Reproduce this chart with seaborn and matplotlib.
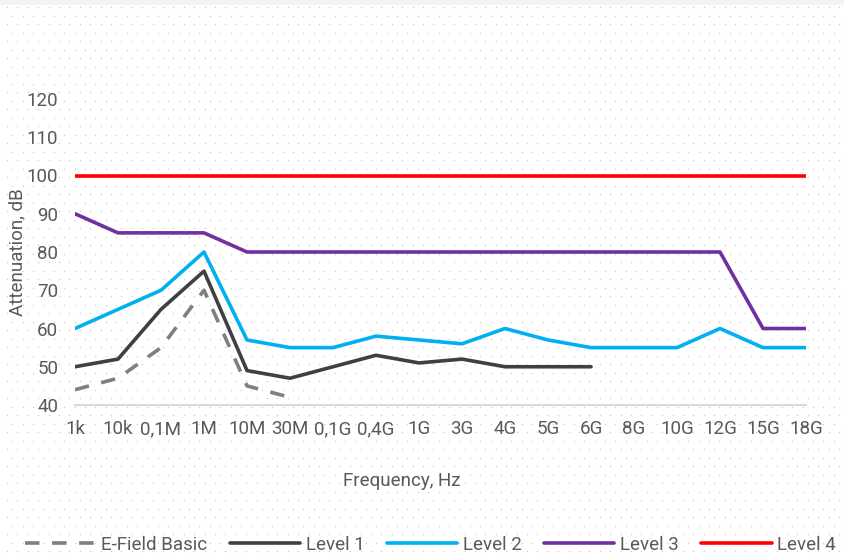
import matplotlib
matplotlib.use("Agg")
import matplotlib.pyplot as plt
import numpy as np
import pandas as pd
import seaborn as sns

# data
freq_labels = ["1k", "10k", "0,1M", "1M", "10M", "30M", "0,1G", "0,4G", "1G",
               "3G", "4G", "5G", "6G", "8G", "10G", "12G", "15G", "18G"]
efield_basic = [44, 47, 55, 70, 45, 42]
level_1 = [50, 52, 65, 75, 49, 47, 50, 53, 51, 52, 50, 50, 50]
level_2 = [60, 65, 70, 80, 57, 55, 55, 58, 57, 56, 60, 57, 55, 55, 55, 60, 55, 55]
level_3 = [90, 85, 85, 85, 80, 80, 80, 80, 80, 80, 80, 80, 80, 80, 80, 80, 60, 60]
level_4 = [100] * 18

series = {
    "E-Field Basic": efield_basic,
    "Level 1": level_1,
    "Level 2": level_2,
    "Level 3": level_3,
    "Level 4": level_4,
}
colors = {
    "E-Field Basic": "#7f7f7f",
    "Level 1": "#404040",
    "Level 2": "#00b0f0",
    "Level 3": "#7030a0",
    "Level 4": "#ff0000",
}

rows = []
for name, vals in series.items():
    for i, v in enumerate(vals):
        rows.append({"pos": i, "freq": freq_labels[i], "value": v, "series": name})
df = pd.DataFrame(rows)

sns.set_theme(style="white")
plt.rcParams["font.family"] = ["Roboto", "DejaVu Sans"]
text_col = "#595959"

fig = plt.figure(figsize=(8.45, 5.55), dpi=100)

# dotted background pattern
bg = fig.add_axes([0, 0, 1, 1], zorder=-1)
bg.set_xlim(0, 845)
bg.set_ylim(555, 0)
bg.axis("off")
ys = np.arange(7, 555, 8.5)
for k, yy in enumerate(ys):
    off = 7 if k % 2 == 0 else 12.2
    xs = np.arange(off, 845, 10.4)
    bg.scatter(xs, np.full_like(xs, yy), s=1.2, color="#d0d0d0", linewidths=0)
bg.axhspan(0, 5, color="#f3f3f3", lw=0)

ax = fig.add_axes([75 / 845, 1 - 405 / 555, 731 / 845, 306 / 555])
ax.patch.set_alpha(0)

sns.lineplot(data=df, x="pos", y="value", hue="series", style="series",
             palette=colors,
             dashes={"E-Field Basic": (4, 3.5), "Level 1": "", "Level 2": "",
                     "Level 3": "", "Level 4": ""},
             linewidth=2.6, ax=ax, legend=False, sort=False)

ax.set_xlim(0, 17)
ax.set_ylim(40, 120)
ax.set_yticks(range(40, 121, 10))
ax.set_xticks(range(len(freq_labels)))
ax.set_xticklabels(freq_labels)
ax.tick_params(axis="both", length=0, labelsize=13.5, labelcolor=text_col)
ax.tick_params(axis="x", pad=11)
ax.tick_params(axis="y", pad=12)
for side in ["top", "right", "left"]:
    ax.spines[side].set_visible(False)
ax.spines["bottom"].set_color("#d9d9d9")
ax.spines["bottom"].set_linewidth(1.5)
ax.set_xlabel("Frequency, Hz", fontsize=13.5, color=text_col)
ax.set_ylabel("Attenuation, dB", fontsize=13.5, color=text_col)
ax.xaxis.set_label_coords((402 - 75) / 731, -(481 - 405) / 306)
ax.yaxis.set_label_coords(-(75 - 17) / 731, 0.5)
ax.xaxis.label.set_va("center")
ax.yaxis.label.set_va("center")

handles = [plt.Line2D([], [], color=colors[n], lw=2.6,
                      dashes=(4, 3.5) if n == "E-Field Basic" else (None, None))
           for n in series]
fig.legend(handles, list(series.keys()), loc="center left",
           bbox_to_anchor=(25 / 845, 1 - 545 / 555), ncol=5, frameon=False,
           fontsize=13.5, handlelength=3.75, handletextpad=0.3,
           columnspacing=1.2, borderpad=0, borderaxespad=0,
           labelcolor=text_col)

fig.savefig("out.png", dpi=100)
